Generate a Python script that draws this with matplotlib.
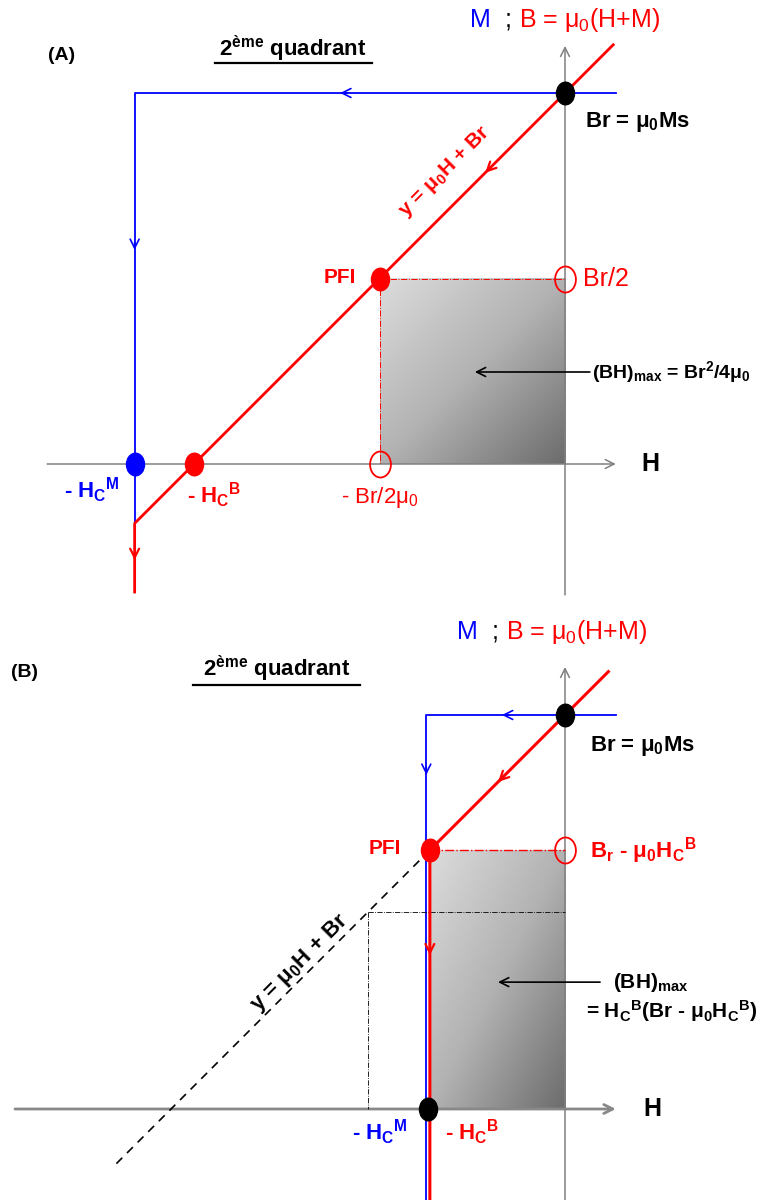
import matplotlib
matplotlib.use("Agg")
import matplotlib.pyplot as plt
import numpy as np
from matplotlib.markers import MarkerStyle
from matplotlib.transforms import Affine2D
from matplotlib.colors import LinearSegmentedColormap

FONT = ['Liberation Sans Narrow', 'Liberation Sans', 'DejaVu Sans']
plt.rcParams['font.family'] = FONT
plt.rcParams['mathtext.fontset'] = 'custom'
plt.rcParams['mathtext.rm'] = 'Liberation Sans'
plt.rcParams['mathtext.bf'] = 'Liberation Sans:bold'
plt.rcParams['mathtext.it'] = 'Liberation Sans:italic'
plt.rcParams['mathtext.sf'] = 'Liberation Sans'

# ---------------- data (units: Br = 1, mu0 = 1) ----------------
# Panel A
A_Br = 1.0
A_HcB = 1.0
A_HcM = 1.16
A_PFI = (-0.5, 0.5)
A_Haxis = (-1.396, 0.137)
A_Baxis = (-0.353, 1.127)
A_blue_top_H = 0.137
A_red_top_H = 0.13
A_bottom = -0.345
A_xlim = (-565 / 371, 204 / 371)
A_ylim = (-136 / 371, 464 / 371)

# Panel B
B_Br = 1.0
B_HcB = 0.343
B_HcM = 0.352
B_PFI = (-0.343, 0.657)
B_alt = (-0.5, 0.5)
B_dash_end_H = -1.147
B_Haxis = (-1.396, 0.129)
B_Baxis = (-0.231, 1.122)
B_blue_top_H = 0.129
B_red_top_H = 0.11
B_bottom = -0.231
B_xlim = (-565 / 394, 204 / 394)
B_ylim = (-91 / 394, 509 / 394)

RED = '#ff0000'
BLUE = '#0000ff'
GRAY = '#808080'

fig = plt.figure(figsize=(7.69, 12.0), dpi=100)
axA = fig.add_axes([0, 0.5, 1, 0.5])
axB = fig.add_axes([0, 0.0, 1, 0.5])
for ax, xl, yl in ((axA, A_xlim, A_ylim), (axB, B_xlim, B_ylim)):
    ax.set_xlim(*xl)
    ax.set_ylim(*yl)
    ax.set_axis_off()

cmap = LinearSegmentedColormap.from_list('g', ['#dcdcdc', '#b2b2b2', '#6c6c6c'])


def gradient(ax, x0, x1, y0, y1):
    n = 200
    u = np.linspace(0, 1, n)
    U, V = np.meshgrid(u, u)
    val = (U + V) / 2
    ax.imshow(val, cmap=cmap, extent=(x0, x1, y0, y1), origin='upper',
              aspect='auto', interpolation='bilinear', zorder=0, vmin=0, vmax=1)


def arrow_axis(ax, p0, p1, lw=1.1, color=GRAY):
    ax.annotate('', xy=p1, xytext=p0,
                arrowprops=dict(arrowstyle='->', color=color, lw=lw,
                                shrinkA=0, shrinkB=0, mutation_scale=16), zorder=1)


def mid_arrow(ax, pt, direction, color, lw=1.2, ms=16):
    d = np.array(direction, dtype=float)
    d = d / np.hypot(*d) * 0.02
    tail = (pt[0] - d[0], pt[1] - d[1])
    ax.annotate('', xy=pt, xytext=tail,
                arrowprops=dict(arrowstyle='->', color=color, lw=lw,
                                shrinkA=0, shrinkB=0, mutation_scale=ms), zorder=4)


ell = MarkerStyle('o', transform=Affine2D().scale(1.0, 1.25))


def dot(ax, p, color, size=12):
    ax.plot([p[0]], [p[1]], marker=ell, ms=size, color=color, mec=color, zorder=6, ls='none')


def ring(ax, p, color, size=14):
    ax.plot([p[0]], [p[1]], marker=ell, ms=size, mfc='none', mec=color, mew=1.3, zorder=6, ls='none')


def title_block(ax, letter, lpos, qpos, uline, mpos):
    ax.text(*lpos, letter, fontsize=14, fontweight='bold', ha='center', va='center')
    ax.text(*qpos, '2$^{\\mathbf{ème}}$ quadrant', fontsize=16, fontweight='bold',
            ha='center', va='center')
    ax.plot(uline[0], uline[1], color='black', lw=1.6)
    mx, sx, bx, y = mpos
    ax.text(mx, y, 'M', color=BLUE, fontsize=18, ha='left', va='center')
    ax.text(sx, y, ';', color='black', fontsize=18, ha='left', va='center')
    ax.text(bx, y, 'B = μ$_{0}$(H+M)', color=RED, fontsize=18, ha='left', va='center')


# ================= Panel A =================
ax = axA
gradient(ax, A_PFI[0], 0, 0, A_PFI[1])
arrow_axis(ax, (A_Haxis[0], 0), (A_Haxis[1], 0))
arrow_axis(ax, (0, A_Baxis[0]), (0, A_Baxis[1]))
# blue M curve
ax.plot([A_blue_top_H, -A_HcM, -A_HcM], [A_Br, A_Br, A_bottom], color=BLUE, lw=1.3, zorder=2)
# red B curve
ax.plot([A_red_top_H, -A_HcM, -A_HcM], [A_red_top_H + A_Br, -A_HcM + A_Br, A_bottom],
        color=RED, lw=2.0, zorder=3)
# dash-dot guides
ax.plot([A_PFI[0], 0], [A_PFI[1], A_PFI[1]], color=RED, lw=0.7, ls='-.', zorder=2)
ax.plot([A_PFI[0], A_PFI[0]], [A_PFI[1], 0], color=RED, lw=0.7, ls='-.', zorder=2)
# direction arrows
mid_arrow(ax, (-0.606, A_Br), (-1, 0), BLUE)
mid_arrow(ax, (-A_HcM, 0.577), (0, -1), BLUE)
mid_arrow(ax, (-0.215, -0.215 + A_Br), (-1, -1), RED, lw=1.6)
mid_arrow(ax, (-A_HcM, -0.259), (0, -1), RED, lw=1.6)
# points
dot(ax, (0, A_Br), 'black', 13)
dot(ax, A_PFI, RED, 13)
dot(ax, (-A_HcM, 0), BLUE, 13)
dot(ax, (-A_HcB, 0), RED, 13)
ring(ax, (0, A_PFI[1]), RED, 15)
ring(ax, (A_PFI[0], 0), RED, 15)
# labels
title_block(ax, '(A)', (-1.356, 1.102), (-0.733, 1.118),
            ([-0.943, -0.520], [1.081, 1.081]), (-0.256, -0.163, -0.125, 1.197))
ax.text(0.054, 0.922, 'Br = μ$_{\\mathbf{0}}$Ms', fontsize=16, fontweight='bold',
        ha='left', va='center')
ax.text(-0.323, 0.787, 'y = μ$_{\\mathbf{0}}$H + Br', fontsize=15, fontweight='bold',
        color=RED, rotation=45, ha='center', va='center', rotation_mode='anchor')
ax.text(-0.606, 0.504, 'PFI', fontsize=15, fontweight='bold', color=RED, ha='center', va='center')
ax.text(0.049, 0.499, 'Br/2', fontsize=18, color=RED, ha='left', va='center')
ax.text(0.073, 0.248, '(BH)$_{\\mathbf{max}}$ = Br$^{\\mathbf{2}}$/4μ$_{\\mathbf{0}}$', fontsize=14,
        fontweight='bold', ha='left', va='center')
ax.annotate('', xy=(-0.243, 0.248), xytext=(0.067, 0.248),
            arrowprops=dict(arrowstyle='->', color='black', lw=1.2, shrinkA=0, shrinkB=0,
                            mutation_scale=16))
ax.text(0.229, 0.0, 'H', fontsize=18, fontweight='bold', ha='center', va='center')
ax.text(-1.275, -0.070, '- H$_{\\mathbf{C}}$$^{\\mathbf{M}}$', fontsize=16, fontweight='bold',
        color=BLUE, ha='center', va='center')
ax.text(-0.946, -0.084, '- H$_{\\mathbf{C}}$$^{\\mathbf{B}}$', fontsize=16, fontweight='bold',
        color=RED, ha='center', va='center')
ax.text(-0.499, -0.089, '- Br/2μ$_{0}$', fontsize=16, color=RED, ha='center', va='center')

# ================= Panel B =================
ax = axB
gradient(ax, B_PFI[0], 0, 0, B_PFI[1])
arrow_axis(ax, (B_Haxis[0], 0), (B_Haxis[1], 0), lw=2.0, color='#888888')
arrow_axis(ax, (0, B_bottom), (0, B_Baxis[1]))
ax.plot([B_blue_top_H, -B_HcM, -B_HcM], [B_Br, B_Br, B_bottom], color=BLUE, lw=1.3, zorder=2)
ax.plot([B_red_top_H, B_PFI[0], B_PFI[0]], [B_red_top_H + B_Br, B_PFI[1], B_bottom],
        color=RED, lw=2.2, zorder=3)
# dashed extension of y = mu0 H + Br
ax.plot([B_PFI[0], B_dash_end_H], [B_PFI[1], B_dash_end_H + B_Br], color='black', lw=1.2,
        ls=(0, (5, 4)), zorder=2)
# dash-dot guides
ax.plot([B_PFI[0], 0], [B_PFI[1], B_PFI[1]], color=RED, lw=1.0, ls='-.', zorder=2)
ax.plot([B_alt[0], 0], [B_alt[1], B_alt[1]], color='black', lw=0.6, ls='-.', zorder=2)
ax.plot([B_alt[0], B_alt[0]], [B_alt[1], 0], color='black', lw=0.6, ls='-.', zorder=2)
mid_arrow(ax, (-0.16, B_Br), (-1, 0), BLUE)
mid_arrow(ax, (-B_HcM, 0.848), (0, -1), BLUE)
mid_arrow(ax, (-0.17, -0.17 + B_Br), (-1, -1), RED, lw=1.6)
mid_arrow(ax, (B_PFI[0], 0.39), (0, -1), RED, lw=1.6)
dot(ax, (0, B_Br), 'black', 13)
dot(ax, B_PFI, RED, 13)
dot(ax, (-(B_HcB + B_HcM) / 2, 0), 'black', 13)
ring(ax, (0, B_PFI[1]), RED, 15)
title_block(ax, '(B)', (-1.371, 1.107), (-0.731, 1.116),
            ([-0.944, -0.520], [1.076, 1.076]), (-0.274, -0.185, -0.150, 1.211))
ax.text(0.063, 0.921, 'Br = μ$_{\\mathbf{0}}$Ms', fontsize=16, fontweight='bold',
        ha='left', va='center')
ax.text(-0.457, 0.662, 'PFI', fontsize=15, fontweight='bold', color=RED, ha='center', va='center')
ax.text(0.063, 0.655, 'B$_{\\mathbf{r}}$ - μ$_{\\mathbf{0}}$H$_{\\mathbf{C}}$$^{\\mathbf{B}}$',
        fontsize=16, fontweight='bold', color=RED, ha='left', va='center')
ax.text(0.218, 0.322, '(BH)$_{\\mathbf{max}}$', fontsize=15, fontweight='bold',
        ha='center', va='center')
ax.text(0.272, 0.249, '= H$_{\\mathbf{C}}$$^{\\mathbf{B}}$(Br - μ$_{\\mathbf{0}}$H$_{\\mathbf{C}}$$^{\\mathbf{B}}$)',
        fontsize=15, fontweight='bold', ha='center', va='center')
ax.annotate('', xy=(-0.170, 0.322), xytext=(0.089, 0.322),
            arrowprops=dict(arrowstyle='->', color='black', lw=1.2, shrinkA=0, shrinkB=0,
                            mutation_scale=16))
ax.text(-0.673, 0.371, 'y = μ$_{\\mathbf{0}}$H + Br', fontsize=16, fontweight='bold',
        color='black', rotation=45, ha='center', va='center', rotation_mode='anchor')
ax.text(0.221, 0.0, 'H', fontsize=18, fontweight='bold', ha='center', va='center')
ax.text(-0.47, -0.058, '- H$_{\\mathbf{C}}$$^{\\mathbf{M}}$', fontsize=16, fontweight='bold',
        color=BLUE, ha='center', va='center')
ax.text(-0.236, -0.058, '- H$_{\\mathbf{C}}$$^{\\mathbf{B}}$', fontsize=16, fontweight='bold',
        color=RED, ha='center', va='center')

fig.savefig('out.png', dpi=100)
